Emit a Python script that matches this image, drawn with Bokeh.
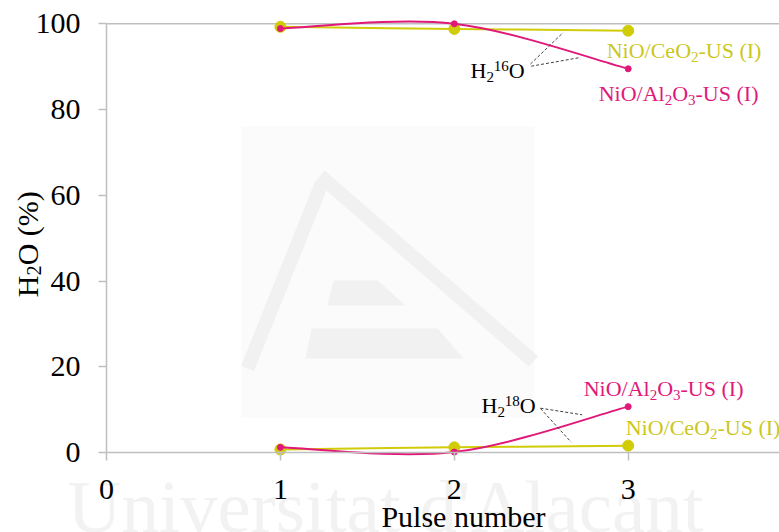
from math import pi

from bokeh.core.properties import field, value
from bokeh.embed import file_html
from bokeh.models import ColumnDataSource, FixedTicker, Range1d
from bokeh.plotting import figure
from bokeh.resources import INLINE

# ---- data -------------------------------------------------------------
pulses = [1, 2, 3]
ceo2_h2o16 = [99.3, 98.8, 98.4]     # NiO/CeO2-US (I), H2(16)O %
al2o3_h2o16 = [98.9, 100.0, 89.5]   # NiO/Al2O3-US (I), H2(16)O %
ceo2_h2o18 = [0.7, 1.2, 1.6]        # NiO/CeO2-US (I), H2(18)O %
al2o3_h2o18 = [1.2, 0.1, 10.7]      # NiO/Al2O3-US (I), H2(18)O %
x_ticks = [0, 1, 2, 3]
y_ticks = [0, 20, 40, 60, 80, 100]

# ---- layout: the frame fills the canvas, axes sit at x=0 / y=0 ---------------
W, H = 779, 532
ORIGIN_X, ORIGIN_Y = 106.0, 452.0     # canvas position of (0, 0)
PX_X = 173.9                          # pixels per pulse
PX_Y = (452.0 - 23.3) / 100           # pixels per percent
X0, X1 = -ORIGIN_X / PX_X, (W - ORIGIN_X) / PX_X
Y0, Y1 = -(H - ORIGIN_Y) / PX_Y, ORIGIN_Y / PX_Y
MID = 0.3375                          # baseline -> "middle" distance, in em


def dx(px):
    """canvas x (pixels) -> data x"""
    return (px - ORIGIN_X) / PX_X


def dy(py):
    """canvas y (pixels) -> data y"""
    return (ORIGIN_Y - py) / PX_Y


PINK = "#E0187A"
YELLOW = "#D1CC08"
YELLOW_TXT = "#CCC71C"
GREY = "#BFBFBF"
SERIF = "'Liberation Serif'"

p = figure(width=W, height=H, output_backend="svg", toolbar_location=None,
           x_range=Range1d(X0, X1), y_range=Range1d(Y0, Y1),
           min_border=0)
p.outline_line_color = None
p.background_fill_color = "white"
p.border_fill_color = "white"

# ---- watermark ----------------------------------------------------------------
p.quad(left=[dx(241)], right=[dx(534)], top=[dy(126)], bottom=[dy(417)],
       fill_color="#FBFBFB", line_color=None, level="underlay")
p.multi_line(xs=[[dx(247), dx(320), dx(325), dx(533)]],
             ys=[[dy(368), dy(186), dy(180), dy(361)]],
             line_color="#F1F1F1", line_width=14, line_join="miter",
             level="underlay")
p.patches(xs=[[dx(333), dx(377), dx(405), dx(327)], [dx(311), dx(437), dx(463), dx(305)]],
          ys=[[dy(280), dy(280), dy(305), dy(305)], [dy(328), dy(328), dy(358), dy(358)]],
          fill_color="#F1F1F1", line_color=None, level="underlay")
p.text(x=[dx(385)], y=[dy(531 - MID * 75)], text=["Universitat d'Alacant"],
       text_font=value(SERIF), text_font_size="75px", text_color="#F2F2F2",
       text_align="center", text_baseline="middle", level="underlay")

# ---- axes -----------------------------------------------------------------
for ax in (p.xaxis[0], p.yaxis[0]):
    ax.fixed_location = 0
    ax.axis_line_color = GREY
    ax.axis_line_width = 1.5
    ax.major_tick_line_color = GREY
    ax.major_tick_line_width = 1.5
    ax.major_tick_in = 0
    ax.major_tick_out = 8
    ax.minor_tick_line_color = None
    ax.major_label_text_font = SERIF
    ax.major_label_text_font_size = "30px"
    ax.major_label_text_color = "black"

p.xaxis.ticker = FixedTicker(ticks=x_ticks)
p.xaxis.bounds = (0, X1)
p.xaxis.major_label_standoff = 19
p.yaxis.ticker = FixedTicker(ticks=y_ticks)
p.yaxis.bounds = (0, 100)
p.yaxis.major_label_standoff = 18

p.grid.grid_line_color = None
# horizontal rule at the top of the value axis
p.segment(x0=[0], y0=[y_ticks[-1]], x1=[X1], y1=[y_ticks[-1]],
          line_color=GREY, line_width=1.5)


# ---- smoothed series ----------------------------------------------------------
def smooth(xs, ys):
    """Cubic Bezier segments through the points (Catmull-Rom style)."""
    n = len(xs)
    seg = {k: [] for k in ("x0", "y0", "x1", "y1", "cx0", "cy0", "cx1", "cy1")}
    for i in range(n - 1):
        xp, yp = (xs[i - 1], ys[i - 1]) if i > 0 else (xs[i], ys[i])
        xn, yn = (xs[i + 2], ys[i + 2]) if i + 2 < n else (xs[i + 1], ys[i + 1])
        seg["x0"].append(xs[i]); seg["y0"].append(ys[i])
        seg["x1"].append(xs[i + 1]); seg["y1"].append(ys[i + 1])
        seg["cx0"].append(xs[i] + (xs[i + 1] - xp) / 6)
        seg["cy0"].append(ys[i] + (ys[i + 1] - yp) / 6)
        seg["cx1"].append(xs[i + 1] - (xn - xs[i]) / 6)
        seg["cy1"].append(ys[i + 1] - (yn - ys[i]) / 6)
    return ColumnDataSource(seg)


for ys, color, size in ((ceo2_h2o16, YELLOW, 11), (ceo2_h2o18, YELLOW, 11),
                        (al2o3_h2o16, PINK, 6), (al2o3_h2o18, PINK, 6)):
    p.bezier(x0="x0", y0="y0", x1="x1", y1="y1", cx0="cx0", cy0="cy0",
             cx1="cx1", cy1="cy1", source=smooth(pulses, ys),
             line_color=color, line_width=2)
    p.scatter(pulses, ys, size=size, fill_color=color, line_color=color)

# ---- rich text labels (sub/superscripts) ----------------------------------------
ADV = {'N': 722, 'i': 278, 'O': 722, '/': 278, 'C': 667, 'e': 444, '2': 500,
       '-': 333, 'U': 722, 'S': 556, ' ': 250, '(': 333, 'I': 333, ')': 333,
       'A': 722, 'l': 278, '3': 500, 'H': 722, '1': 500, '6': 500, '8': 500,
       '%': 833}


def width_of(txt, fs):
    return sum(ADV.get(c, 500) for c in txt) * fs / 1000


def rich(pieces, x, y, color, size=22.0, xo=0.0, yo=0.0):
    """Text run with sub/superscripts; (x, y) + (xo, yo) is the left baseline point."""
    rows = dict(x=[], y=[], text=[], xo=[], yo=[], fs=[])
    cur = xo
    for txt, kind in pieces:
        fs = size if kind == "n" else size * 0.68
        shift = {"n": 0.0, "sub": 0.2 * size, "sup": -0.3 * size}[kind]
        rows["x"].append(x); rows["y"].append(y); rows["text"].append(txt)
        rows["xo"].append(cur); rows["yo"].append(yo + shift - MID * fs)
        rows["fs"].append(f"{fs:.1f}px")
        cur += width_of(txt, fs)
    p.text(x="x", y="y", text="text", x_offset="xo", y_offset="yo",
           text_font_size=field("fs"), text_font=value(SERIF),
           text_color=color, text_align="left", text_baseline="middle",
           source=ColumnDataSource(rows))


ceo2_txt = [("NiO/CeO", "n"), ("2", "sub"), ("-US (I)", "n")]
al2o3_txt = [("NiO/Al", "n"), ("2", "sub"), ("O", "n"), ("3", "sub"), ("-US (I)", "n")]

rich(ceo2_txt, pulses[-1], ceo2_h2o16[-1], YELLOW_TXT, xo=-21.5, yo=26.8)
rich(al2o3_txt, pulses[-1], al2o3_h2o16[-1], PINK, xo=-29.5, yo=31.7)
rich(al2o3_txt, pulses[-1], al2o3_h2o18[-1], PINK, xo=-44.5, yo=-11.0)
rich(ceo2_txt, pulses[-1], ceo2_h2o18[-1], YELLOW_TXT, xo=-2.5, yo=-11.0)

rich([("H", "n"), ("2", "sub"), ("16", "sup"), ("O", "n")], dx(470), dy(77), "black")
rich([("H", "n"), ("2", "sub"), ("18", "sup"), ("O", "n")], dx(481), dy(412.3), "black")

# dashed leaders from the isotope labels to the curves
p.segment(x0=[dx(530), dx(530.7)], y0=[dy(63.5), dy(65.7)],
          x1=[dx(562.7), dx(578)], y1=[dy(32), dy(57.3)],
          line_color="#404040", line_width=1, line_dash="3 2")
p.segment(x0=[dx(540), dx(540)], y0=[dy(407.7), dy(408)],
          x1=[dx(581.7), dx(570.7)], y1=[dy(414.3), dy(441.7)],
          line_color="#404040", line_width=1, line_dash="3 2")

# ---- axis titles ------------------------------------------------------------------
p.text(x=[dx(463)], y=[dy(526 - MID * 30)], text=["Pulse number"],
       text_font=value(SERIF), text_font_size="30px", text_align="center",
       text_baseline="middle", text_color="black")

title_px = 30.0
ybase = 296.7
rows = dict(x=[], y=[], text=[], fs=[])
for txt, fs, shift in (("H", title_px, 0.0), ("2", title_px * 0.68, 3.5),
                       ("O (%)", title_px, 0.0)):
    rows["x"].append(dx(36.7 + shift - MID * fs)); rows["y"].append(dy(ybase))
    rows["text"].append(txt); rows["fs"].append(f"{fs:.1f}px")
    ybase -= width_of(txt, fs)
p.text(x="x", y="y", text="text", angle=pi / 2, text_font_size=field("fs"),
       text_font=value(SERIF), text_align="left", text_baseline="middle",
       text_color="black", source=ColumnDataSource(rows))

open("out.html", "w").write(file_html(p, INLINE))
